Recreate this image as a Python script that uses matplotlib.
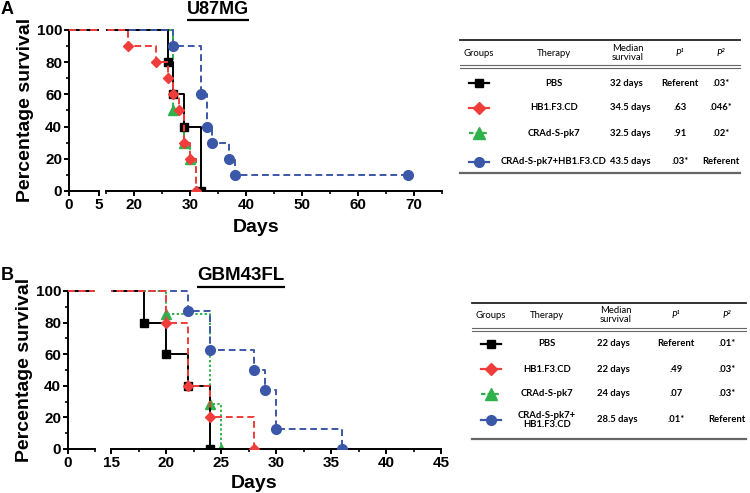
import matplotlib
matplotlib.use("Agg")
import matplotlib.pyplot as plt

plt.rcParams["font.family"] = ["Liberation Sans", "DejaVu Sans"]
plt.rcParams["font.weight"] = "bold"

W, H = 750, 493

# ---- data ----
groups = ["PBS", "HB1.F3.CD", "CRAd-S-pk7", "CRAd-S-pk7+HB1.F3.CD"]

# U87MG survival curves (days, % survival)
u87_times = [
    [0, 26, 27, 29, 32],
    [0, 19, 24, 26, 27, 28, 29, 30, 31],
    [0, 27, 29, 30, 31],
    [0, 27, 32, 33, 34, 37, 38, 69],
]
u87_surv = [
    [100, 80, 60, 40, 0],
    [100, 90, 80, 70, 60, 50, 30, 20, 0],
    [100, 50, 30, 20, 0],
    [100, 90, 60, 40, 30, 20, 10, 10],
]

# GBM43FL survival curves
gbm_times = [
    [0, 18, 20, 22, 24],
    [0, 20, 22, 24, 28],
    [0, 20, 24, 25],
    [0, 22, 24, 28, 29, 30, 36],
]
gbm_surv = [
    [100, 80, 60, 40, 0],
    [100, 80, 40, 20, 0],
    [100, 85.7, 28.6, 0],
    [100, 87.5, 62.5, 50, 37.5, 12.5, 0],
]

# tables
u87_therapy = ["PBS", "HB1.F3.CD", "CRAd-S-pk7", "CRAd-S-pk7+HB1.F3.CD"]
u87_median = ["32 days", "34.5 days", "32.5 days", "43.5 days"]
u87_p1 = ["Referent", ".63", ".91", ".03*"]
u87_p2 = [".03*", ".046*", ".02*", "Referent"]

gbm_therapy = ["PBS", "HB1.F3.CD", "CRAd-S-pk7", "CRAd-S-pk7+\nHB1.F3.CD"]
gbm_median = ["22 days", "22 days", "24 days", "28.5 days"]
gbm_p1 = ["Referent", ".49", ".07", ".01*"]
gbm_p2 = [".01*", ".03*", ".03*", "Referent"]

# ---- styles ----
colors = ["#000000", "#ee3d3a", "#2fb14b", "#3b57a8"]
markers = ["s", "D", "^", "o"]
msizes = [6, 5, 6.5, 7]
styles_a = ["-", (0, (3.5, 2)), (0, (3, 2)), (0, (3.5, 2))]
styles_b = ["-", (0, (3.5, 2)), (0, (1.2, 1.2)), (0, (3.5, 2))]
zorders = [2, 5, 1, 3]

fig = plt.figure(figsize=(W / 100, H / 100), dpi=100)

# overlay axes in pixel coordinates for the tables
ov = fig.add_axes([0, 0, 1, 1])
ov.set_xlim(0, W)
ov.set_ylim(H, 0)
ov.axis("off")
ov.patch.set_alpha(0)


def add_px(left, y100, right, y0):
    top = y100 - 2 * (y0 - y100) / 100
    ax = fig.add_axes([left / W, 1 - y0 / H, (right - left) / W, (y0 - top) / H])
    ax.set_ylim(0, 102)
    ax.patch.set_alpha(0)
    for s in ["top", "right"]:
        ax.spines[s].set_visible(False)
    ax.spines["left"].set_bounds(0, 100)
    for s in ["left", "bottom"]:
        ax.spines[s].set_linewidth(1.4)
    ax.tick_params(which="major", direction="out", length=3.5, width=1.4,
                   labelsize=11, pad=1.5)
    ax.tick_params(which="minor", direction="out", length=2, width=1.2)
    return ax


def draw_curves(ax, times, surv, styles):
    for i in range(len(times)):
        ax.step(times[i], surv[i], where="post", color=colors[i],
                linestyle=styles[i], lw=1.4, zorder=zorders[i])
        ax.plot(times[i][1:], surv[i][1:], linestyle="none", marker=markers[i],
                ms=msizes[i], color=colors[i], zorder=zorders[i] + 0.5)


def panel(y100, y0, seg1, seg2, xl1, xl2, maj1, maj2, min2, times, surv, styles):
    a1 = add_px(seg1[0], y100, seg1[1], y0)
    a2 = add_px(seg2[0], y100, seg2[1], y0)
    a1.set_xlim(*xl1)
    a2.set_xlim(*xl2)
    a1.set_xticks(maj1)
    a2.set_xticks(maj2)
    a2.set_xticks(min2, minor=True)
    a1.set_yticks([0, 20, 40, 60, 80, 100])
    a1.set_yticks([10, 30, 50, 70, 90], minor=True)
    a2.spines["left"].set_visible(False)
    a2.tick_params(axis="y", which="both", left=False, labelleft=False)
    for ax in (a1, a2):
        draw_curves(ax, times, surv, styles)
    return a1, a2


# Panel A
panel(30, 191, (69, 99), (106, 442), (0, 5), (15, 75), [0, 5],
      [20, 30, 40, 50, 60, 70], [15, 25, 35, 45, 55, 65, 75],
      u87_times, u87_surv, styles_a)

# Panel B
b1, b2 = panel(291, 449, (68, 95), (111, 441), (0, 2.5), (15, 45), [0],
               [15, 20, 25, 30, 35, 40, 45],
               [17.5, 22.5, 27.5, 32.5, 37.5, 42.5],
               gbm_times, gbm_surv, styles_b)
b1.set_xticks([2.5], minor=True)


def ftext(x, y, s, **kw):
    return fig.text(x / W, 1 - y / H, s, **kw)


ftext(7, 9, "A", fontsize=13, ha="center", va="center")
ftext(7, 276, "B", fontsize=13, ha="center", va="center")
ftext(26, 110, "Percentage survival", fontsize=14, rotation=90, ha="center", va="center")
ftext(25, 370, "Percentage survival", fontsize=14, rotation=90, ha="center", va="center")
ftext(256, 228, "Days", fontsize=14, ha="center", va="center")
ftext(254, 483, "Days", fontsize=14, ha="center", va="center")
t1 = ftext(218, 10, "U87MG", fontsize=13, ha="center", va="center")
t2 = ftext(241, 276, "GBM43FL", fontsize=13.5, ha="center", va="center")

# underline the titles
fig.canvas.draw()
rend = fig.canvas.get_renderer()
for t, yline in ((t1, 20), (t2, 287)):
    bb = t.get_window_extent(rend)
    ov.plot([bb.x0, bb.x1], [yline, yline], color="black", lw=1.6,
            solid_capstyle="butt")


def table(x0, x1, ytop, yhead, ydbl, rows_y, ybot, cols, therapy, median, p1, p2,
          med_left):
    tf = dict(family="Lato", fontsize=6.8)
    ov.plot([x0, x1], [ytop, ytop], color="#222222", lw=1.3)
    ov.plot([x0, x1], [ydbl, ydbl], color="#666666", lw=0.8)
    ov.plot([x0, x1], [ydbl + 2.5, ydbl + 2.5], color="#666666", lw=0.8)
    ov.plot([x0, x1], [ybot, ybot], color="#666666", lw=1.6)
    ov.text(cols[0], yhead, "Groups", ha="center", va="center", weight="normal", **tf)
    ov.text(cols[1], yhead, "Therapy", ha="center", va="center", weight="normal", **tf)
    ov.text(cols[2], yhead, "Median\nsurvival", ha="center", va="center",
            weight="normal", linespacing=1.0, **tf)
    ov.text(cols[3], yhead, "P\u00b9", ha="center", va="center", weight="normal",
            style="italic", **tf)
    ov.text(cols[4], yhead, "P\u00b2", ha="center", va="center", weight="normal",
            style="italic", **tf)
    for i, y in enumerate(rows_y):
        ov.plot([cols[0] - 10, cols[0] + 10], [y, y], color=colors[i], lw=1.6,
                linestyle="-" if i != 2 else (0, (2, 1)))
        ov.plot([cols[0]], [y], marker=markers[i], color=colors[i],
                ms=[6, 6.5, 8, 7][i], linestyle="none")
        ov.text(cols[1], y, therapy[i], ha="center", va="center", weight="bold",
                linespacing=1.1, **tf)
        ov.text(med_left, y, median[i], ha="left", va="center", weight="bold", **tf)
        ov.text(cols[3], y, p1[i], ha="center", va="center", weight="bold", **tf)
        ov.text(cols[4], y, p2[i], ha="center", va="center", weight="bold", **tf)


table(460, 740, 40, 53, 65, [83, 108, 133, 162], 173,
      [479, 554, 628, 680, 721], u87_therapy, u87_median, u87_p1, u87_p2, 610)
table(472, 746, 303, 315, 328, [344, 369, 394, 420], 439,
      [491, 547, 616, 676, 727], gbm_therapy, gbm_median, gbm_p1, gbm_p2, 597)

fig.savefig("out.png", dpi=100)
